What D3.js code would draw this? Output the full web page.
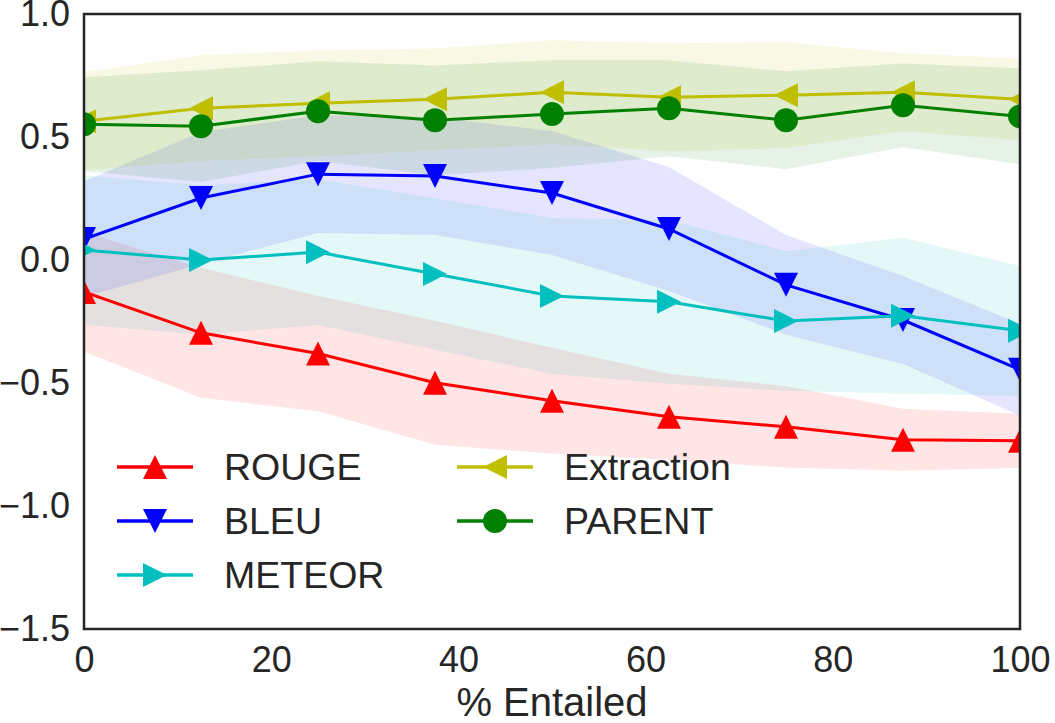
<!DOCTYPE html>
<html>
<head>
<meta charset="utf-8">
<script src="https://cdn.jsdelivr.net/npm/d3@7"></script>
<style>
  body { margin: 0; background: #fff; }
  svg { display: block; font-family: 'Liberation Sans', Arial, sans-serif; }
</style>
</head>
<body>
<svg width="1055" height="723"></svg>
<script>
const entailed = [0, 12.5, 25, 37.5, 50, 62.5, 75, 87.5, 100]

const rougeMean = [-0.130, -0.296, -0.380, -0.499, -0.572, -0.637, -0.678, -0.731, -0.735]
const rougeStd = [0.243, 0.264, 0.235, 0.252, 0.215, 0.175, 0.166, 0.126, 0.110]
const bleuMean = [0.085, 0.252, 0.349, 0.341, 0.272, 0.126, -0.101, -0.244, -0.446]
const bleuStd = [0.235, 0.268, 0.239, 0.239, 0.252, 0.252, 0.203, 0.179, 0.187]
const meteorMean = [0.041, 0.000, 0.032, -0.057, -0.146, -0.170, -0.248, -0.227, -0.288]
const meteorStd = [0.304, 0.304, 0.296, 0.308, 0.317, 0.333, 0.284, 0.317, 0.264]
const extractionMean = [0.564, 0.617, 0.637, 0.653, 0.682, 0.662, 0.670, 0.682, 0.653]
const extractionStd = [0.199, 0.215, 0.215, 0.207, 0.211, 0.219, 0.215, 0.158, 0.166]
const parentMean = [0.552, 0.544, 0.605, 0.568, 0.593, 0.617, 0.568, 0.629, 0.584]
const parentStd = [0.191, 0.227, 0.203, 0.223, 0.219, 0.195, 0.199, 0.170, 0.195]

const xTicks = [0, 20, 40, 60, 80, 100]
const yTicks = [-1.5, -1.0, -0.5, 0.0, 0.5, 1.0]

const series = [
  {name: 'ROUGE', mean: rougeMean, std: rougeStd, color: '#ff0000', marker: 'up'},
  {name: 'BLEU', mean: bleuMean, std: bleuStd, color: '#0000ff', marker: 'down'},
  {name: 'METEOR', mean: meteorMean, std: meteorStd, color: '#00bfbf', marker: 'right'},
  {name: 'Extraction', mean: extractionMean, std: extractionStd, color: '#bfbf00', marker: 'left'},
  {name: 'PARENT', mean: parentMean, std: parentStd, color: '#008000', marker: 'circle'},
]

const textColor = '#262626'
const fontFamily = "'Liberation Sans', Arial, sans-serif"
const margins = {top: 14, right: 35, bottom: 94, left: 84}
const svg = d3.select('svg')
const width = +svg.attr('width') - margins.left - margins.right
const height = +svg.attr('height') - margins.top - margins.bottom

const x = d3.scaleLinear().domain([0, 100]).range([0, width])
const y = d3.scaleLinear().domain([-1.5, 1.0]).range([height, 0])

const markerPath = (type, r) => {
  if (type === 'up') return `M0,${-r}L${r},${r}L${-r},${r}Z`
  if (type === 'down') return `M0,${r}L${r},${-r}L${-r},${-r}Z`
  if (type === 'right') return `M${r},0L${-r},${-r}L${-r},${r}Z`
  if (type === 'left') return `M${-r},0L${r},${-r}L${r},${r}Z`
  return d3.symbol(d3.symbolCircle, Math.PI * r * r)()
}

svg.append('defs')
  .append('clipPath')
  .attr('id', 'plot-clip')
  .append('rect')
  .attr('width', width)
  .attr('height', height)

const g = svg.append('g')
  .attr('transform', `translate(${margins.left}, ${margins.top})`)

const plot = g.append('g').attr('clip-path', 'url(#plot-clip)')

// bands first, mean +/- std
const area = d3.area()
  .x((d) => x(d.x))
  .y0((d) => y(d.m - d.s))
  .y1((d) => y(d.m + d.s))

series.forEach((s) => {
  const pts = entailed.map((e, i) => ({x: e, m: s.mean[i], s: s.std[i]}))
  plot.append('path')
    .attr('d', area(pts))
    .attr('fill', s.color)
    .attr('fill-opacity', 0.1)
})

const line = d3.line()
  .x((d) => x(d.x))
  .y((d) => y(d.m))

series.forEach((s) => {
  const pts = entailed.map((e, i) => ({x: e, m: s.mean[i]}))
  plot.append('path')
    .attr('d', line(pts))
    .attr('fill', 'none')
    .attr('stroke', s.color)
    .attr('stroke-width', 3)
  plot.selectAll(null)
    .data(pts)
    .enter()
    .append('path')
    .attr('transform', (d) => `translate(${x(d.x)}, ${y(d.m)})`)
    .attr('d', markerPath(s.marker, 12))
    .attr('fill', s.color)
})

// frame
g.append('rect')
  .attr('width', width)
  .attr('height', height)
  .attr('fill', 'none')
  .attr('stroke', textColor)
  .attr('stroke-width', 2.5)

const xAxis = g.append('g')
  .attr('transform', `translate(0, ${height})`)
  .call(d3.axisBottom(x).tickValues(xTicks).tickSize(0).tickPadding(17))
xAxis.select('.domain').remove()
xAxis.selectAll('text')
  .attr('font-size', 36)
  .attr('font-family', fontFamily)
  .attr('fill', textColor)

const yAxis = g.append('g')
  .call(d3.axisLeft(y).tickValues(yTicks).tickFormat(d3.format('.1f')).tickSize(0).tickPadding(14))
yAxis.select('.domain').remove()
yAxis.selectAll('text')
  .attr('font-size', 36)
  .attr('font-family', fontFamily)
  .attr('fill', textColor)

g.append('text')
  .attr('x', width / 2)
  .attr('y', height + 87)
  .attr('text-anchor', 'middle')
  .attr('font-size', 40)
  .attr('fill', textColor)
  .text('% Entailed')

// legend, two columns filled top to bottom
const legendRows = 3
const legendRowHeight = 54
const legendColumnWidth = 340
const legend = svg.append('g')
  .attr('transform', 'translate(117, 467)')
  .selectAll('g')
  .data(series)
  .enter()
  .append('g')
  .attr('transform', (d, i) => {
    const lx = Math.floor(i / legendRows) * legendColumnWidth
    const ly = (i % legendRows) * legendRowHeight
    return `translate(${lx}, ${ly})`
  })

legend.append('line')
  .attr('x1', 0)
  .attr('x2', 76)
  .attr('stroke', (d) => d.color)
  .attr('stroke-width', 3.3)
legend.append('path')
  .attr('transform', 'translate(38, 0)')
  .attr('d', (d) => markerPath(d.marker, 12))
  .attr('fill', (d) => d.color)
legend.append('text')
  .attr('x', 107)
  .attr('dy', '0.35em')
  .attr('font-size', 37.5)
  .attr('fill', textColor)
  .text((d) => d.name)
</script>
</body>
</html>
